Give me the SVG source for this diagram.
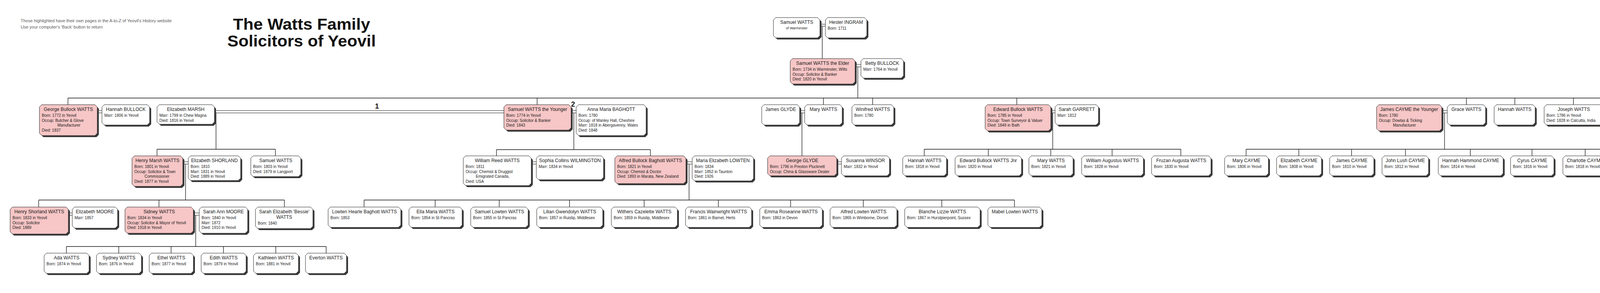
<svg xmlns="http://www.w3.org/2000/svg" width="4500" height="750" viewBox="0 0 4500 750">
<style>
.bx{fill:#ffffff;stroke:#222;stroke-width:1}
.pk{fill:#f7c6c6;stroke:#222;stroke-width:1}
.sh{fill:#3a3a3a}
text{font-family:"Liberation Sans",Arial,sans-serif;fill:#1a1a1a}
.nm{font-size:12px;text-anchor:middle}
.dt{font-size:10px}
.sub{font-size:9px;text-anchor:middle}
.note{font-size:11px;fill:#5a5a5a}
.title{font-size:40px;font-weight:bold;text-anchor:middle;fill:#111}
.num{font-size:18px;font-weight:bold;fill:#111}
.ln{fill:none;stroke:#111;stroke-width:1.3}
.dl{fill:none;stroke:#111;stroke-width:1}
</style>
<rect width="4500" height="750" fill="#ffffff"/>

<g id="header">
<text class="note" x="53" y="57">Those highlighted have their own pages in the A-to-Z of Yeovil's History website</text>
<text class="note" x="53" y="73">Use your computer's 'Back' button to return</text>
<text class="title" x="772" y="76" textLength="351" lengthAdjust="spacingAndGlyphs">The Watts Family</text>
<text class="title" x="772" y="119" textLength="380" lengthAdjust="spacingAndGlyphs">Solicitors of Yeovil</text>
</g>

<g id="connectors">
<path class="dl" d="M2099,62H2113M2099,67H2113"/>
<path class="ln" d="M2105,67V150"/>
<path class="dl" d="M2189,165H2204M2189,171H2204"/>
<path class="ln" d="M2196,171V251"/>
<path class="ln" d="M174,251H4217M174,251V268M1375,251V268M2108,251V268M2234,251V268M2603,251V268M3754,251V268M3878,251V268M4028,251V268M4217,251V268"/>
<path class="dl" d="M249,283H261M249,289H261"/>
<path class="dl" d="M549,283H1290M549,289H1290"/>
<path class="ln" d="M553,289V382M402,382H705M402,382V399M705,382V399"/>
<path class="dl" d="M1462,283H1475M1462,289H1475"/>
<path class="ln" d="M1469,289V383M1271,383H1665M1271,383V399M1665,383V399"/>
<path class="dl" d="M2047,283H2060M2047,289H2060"/>
<path class="ln" d="M2053,289V399"/>
<path class="dl" d="M2690,283H2701M2690,289H2701"/>
<path class="ln" d="M2695,289V382M2366,382H3023M2366,382V399M2530,382V399M2690,382V399M2847,382V399M3023,382V399"/>
<path class="dl" d="M3691,283H3705M3691,289H3705"/>
<path class="ln" d="M3698,289V382M3190,382H4206M3190,382V399M3325,382V399M3460,382V399M3598,382V399M3764,382V399M3922,382V399M4058,382V399M4206,382V399"/>
<path class="dl" d="M4310,283H4323M4310,289H4323"/>
<path class="dl" d="M468,414H482M468,420H482"/>
<path class="ln" d="M475,420V512M99,512H728M99,512V530M407,512V530M728,512V530"/>
<path class="dl" d="M1360,414H1373M1360,420H1373"/>
<path class="dl" d="M1756,414H1772M1756,420H1772"/>
<path class="ln" d="M1764,420V512M932,512H2597M932,512V530M1114,512V530M1278,512V530M1458,512V530M1649,512V530M1839,512V530M2024,512V530M2210,512V530M2411,512V530M2597,512V530"/>
<path class="dl" d="M2142,414H2154M2142,420H2154"/>
<path class="dl" d="M175,545H185M175,551H185"/>
<path class="dl" d="M495,545H510M495,551H510"/>
<path class="ln" d="M501,551V631M170,631H835M170,631V648M304,631V648M438,631V648M572,631V648M706,631V648M835,631V648"/>
<text class="num" x="960" y="278">1</text>
<text class="num" x="1462" y="273">2</text>
</g>

<g id="n01" transform="translate(1980,45)"><polygon class="sh" transform="translate(4,4)" points="6,0 113,0 119,6 119,46 113,52 6,52 0,46 0,6"/><polygon class="bx" points="6,0 113,0 119,6 119,46 113,52 6,52 0,46 0,6"/><text class="nm" x="59.5" y="16">Samuel WATTS</text><text class="sub" x="59.5" y="30">of Warminster</text></g>
<g id="n02" transform="translate(2113,45)"><polygon class="sh" transform="translate(4,4)" points="6,0 100,0 106,6 106,46 100,52 6,52 0,46 0,6"/><polygon class="bx" points="6,0 100,0 106,6 106,46 100,52 6,52 0,46 0,6"/><text class="nm" x="53" y="16">Hester INGRAM</text><text class="dt" x="6" y="31">Born: 1711</text></g>
<g id="n03" transform="translate(2023,150)"><polygon class="sh" transform="translate(4,4)" points="6,0 160,0 166,6 166,59 160,65 6,65 0,59 0,6"/><polygon class="pk" points="6,0 160,0 166,6 166,59 160,65 6,65 0,59 0,6"/><text class="nm" x="83" y="16">Samuel WATTS the Elder</text><text class="dt" x="6" y="31">Born: 1734 in Warminster, Wilts</text><text class="dt" x="6" y="43.5">Occup: Solicitor &amp; Banker</text><text class="dt" x="6" y="56">Died: 1820 in Yeovil</text></g>
<g id="n04" transform="translate(2204,150)"><polygon class="sh" transform="translate(4,4)" points="6,0 103,0 109,6 109,44 103,50 6,50 0,44 0,6"/><polygon class="bx" points="6,0 103,0 109,6 109,44 103,50 6,50 0,44 0,6"/><text class="nm" x="54.5" y="16">Betty BULLOCK</text><text class="dt" x="6" y="31">Marr: 1764 in Yeovil</text></g>

<g id="n05" transform="translate(101,268)"><polygon class="sh" transform="translate(4,4)" points="6,0 142,0 148,6 148,73 142,79 6,79 0,73 0,6"/><polygon class="pk" points="6,0 142,0 148,6 148,73 142,79 6,79 0,73 0,6"/><text class="nm" x="74" y="16">George Bullock WATTS</text><text class="dt" x="6" y="31">Born: 1772 in Yeovil</text><text class="dt" x="6" y="43.5">Occup: Butcher &amp; Glove</text><text class="dt" x="46" y="56">Manufacturer</text><text class="dt" x="6" y="68.5">Died: 1837</text></g>
<g id="n06" transform="translate(261,268)"><polygon class="sh" transform="translate(4,4)" points="6,0 116,0 122,6 122,46 116,52 6,52 0,46 0,6"/><polygon class="bx" points="6,0 116,0 122,6 122,46 116,52 6,52 0,46 0,6"/><text class="nm" x="61" y="16">Hannah BULLOCK</text><text class="dt" x="6" y="31">Marr: 1806 in Yeovil</text></g>
<g id="n07" transform="translate(402,268)"><polygon class="sh" transform="translate(4,4)" points="6,0 141,0 147,6 147,44 141,50 6,50 0,44 0,6"/><polygon class="bx" points="6,0 141,0 147,6 147,44 141,50 6,50 0,44 0,6"/><text class="nm" x="73.5" y="16">Elizabeth MARSH</text><text class="dt" x="6" y="31">Marr: 1799 in Chew Magna</text><text class="dt" x="6" y="43.5">Died: 1816 in Yeovil</text></g>
<g id="n08" transform="translate(1290,268)"><polygon class="sh" transform="translate(4,4)" points="6,0 166,0 172,6 172,59 166,65 6,65 0,59 0,6"/><polygon class="pk" points="6,0 166,0 172,6 172,59 166,65 6,65 0,59 0,6"/><text class="nm" x="86" y="16">Samuel WATTS the Younger</text><text class="dt" x="6" y="31">Born: 1774 in Yeovil</text><text class="dt" x="6" y="43.5">Occup: Solicitor &amp; Banker</text><text class="dt" x="6" y="56">Died: 1843</text></g>
<g id="n09" transform="translate(1475,268)"><polygon class="sh" transform="translate(4,4)" points="6,0 173,0 179,6 179,73 173,79 6,79 0,73 0,6"/><polygon class="bx" points="6,0 173,0 179,6 179,73 173,79 6,79 0,73 0,6"/><text class="nm" x="89.5" y="16">Anna Maria BAGHOTT</text><text class="dt" x="6" y="31">Born: 1780</text><text class="dt" x="6" y="43.5">Occup: of Manley Hall, Cheshire</text><text class="dt" x="6" y="56">Marr: 1818 in Abergavenny, Wales</text><text class="dt" x="6" y="68.5">Died: 1848</text></g>
<g id="n10" transform="translate(1950,268)"><polygon class="sh" transform="translate(4,4)" points="6,0 91,0 97,6 97,46 91,52 6,52 0,46 0,6"/><polygon class="bx" points="6,0 91,0 97,6 97,46 91,52 6,52 0,46 0,6"/><text class="nm" x="48.5" y="16">James GLYDE</text></g>
<g id="n11" transform="translate(2060,268)"><polygon class="sh" transform="translate(4,4)" points="6,0 90,0 96,6 96,46 90,52 6,52 0,46 0,6"/><polygon class="bx" points="6,0 90,0 96,6 96,46 90,52 6,52 0,46 0,6"/><text class="nm" x="48" y="16">Mary  WATTS</text></g>
<g id="n12" transform="translate(2181,268)"><polygon class="sh" transform="translate(4,4)" points="6,0 101,0 107,6 107,46 101,52 6,52 0,46 0,6"/><polygon class="bx" points="6,0 101,0 107,6 107,46 101,52 6,52 0,46 0,6"/><text class="nm" x="53.5" y="16">Winifred  WATTS</text><text class="dt" x="6" y="31">Born: 1780</text></g>
<g id="n13" transform="translate(2522,268)"><polygon class="sh" transform="translate(4,4)" points="6,0 162,0 168,6 168,61 162,67 6,67 0,61 0,6"/><polygon class="pk" points="6,0 162,0 168,6 168,61 162,67 6,67 0,61 0,6"/><text class="nm" x="84" y="16">Edward Bullock WATTS</text><text class="dt" x="6" y="31">Born: 1785 in Yeovil</text><text class="dt" x="6" y="43.5">Occup: Town Surveyor &amp; Valuer</text><text class="dt" x="6" y="56">Died: 1849 in Bath</text></g>
<g id="n14" transform="translate(2701,268)"><polygon class="sh" transform="translate(4,4)" points="6,0 105,0 111,6 111,46 105,52 6,52 0,46 0,6"/><polygon class="bx" points="6,0 105,0 111,6 111,46 105,52 6,52 0,46 0,6"/><text class="nm" x="55.5" y="16">Sarah GARRETT</text><text class="dt" x="6" y="31">Marr: 1812</text></g>
<g id="n15" transform="translate(3524,268)"><polygon class="sh" transform="translate(4,4)" points="6,0 161,0 167,6 167,61 161,67 6,67 0,61 0,6"/><polygon class="pk" points="6,0 161,0 167,6 167,61 161,67 6,67 0,61 0,6"/><text class="nm" x="83.5" y="16">James CAYME the Younger</text><text class="dt" x="6" y="31">Born: 1780</text><text class="dt" x="6" y="43.5">Occup: Dowlas &amp; Ticking</text><text class="dt" x="42" y="56">Manufacturer</text></g>
<g id="n16" transform="translate(3705,268)"><polygon class="sh" transform="translate(4,4)" points="6,0 92,0 98,6 98,46 92,52 6,52 0,46 0,6"/><polygon class="bx" points="6,0 92,0 98,6 98,46 92,52 6,52 0,46 0,6"/><text class="nm" x="49" y="16">Grace  WATTS</text></g>
<g id="n17" transform="translate(3825,268)"><polygon class="sh" transform="translate(4,4)" points="6,0 99,0 105,6 105,46 99,52 6,52 0,46 0,6"/><polygon class="bx" points="6,0 99,0 105,6 105,46 99,52 6,52 0,46 0,6"/><text class="nm" x="52.5" y="16">Hannah  WATTS</text></g>
<g id="n18" transform="translate(3953,268)"><polygon class="sh" transform="translate(4,4)" points="6,0 146,0 152,6 152,46 146,52 6,52 0,46 0,6"/><polygon class="bx" points="6,0 146,0 152,6 152,46 146,52 6,52 0,46 0,6"/><text class="nm" x="76" y="16">Joseph WATTS</text><text class="dt" x="6" y="31">Born: 1786 in Yeovil</text><text class="dt" x="6" y="43.5">Died: 1828 in Calcutta, India</text></g>
<g id="n19" transform="translate(4126,268)"><polygon class="sh" transform="translate(4,4)" points="6,0 178,0 184,6 184,49 178,55 6,55 0,49 0,6"/><polygon class="pk" points="6,0 178,0 184,6 184,49 178,55 6,55 0,49 0,6"/><text class="nm" x="92" y="16">Thomas Bullock WATTS</text><text class="dt" x="6" y="31">Born: 1787 in Yeovil</text><text class="dt" x="6" y="43.5">Occup: Solicitor &amp; Brandy Merchant</text></g>
<g id="n20" transform="translate(4323,268)"><polygon class="sh" transform="translate(4,4)" points="6,0 112,0 118,6 118,61 112,67 6,67 0,61 0,6"/><polygon class="bx" points="6,0 112,0 118,6 118,61 112,67 6,67 0,61 0,6"/><text class="nm" x="59" y="16">Maria  MOUNTY</text><text class="dt" x="6" y="31">Born: 1813 in Bath</text><text class="dt" x="6" y="43.5">Marr: 1841 in Bath</text><text class="dt" x="6" y="56">Died: 1870 in London</text></g>

<g id="n21" transform="translate(338,399)"><polygon class="sh" transform="translate(4,4)" points="6,0 124,0 130,6 130,72 124,78 6,78 0,72 0,6"/><polygon class="pk" points="6,0 124,0 130,6 130,72 124,78 6,78 0,72 0,6"/><text class="nm" x="65" y="16">Henry Marsh  WATTS</text><text class="dt" x="6" y="31">Born: 1801 in Yeovil</text><text class="dt" x="6" y="43.5">Occup: Solicitor &amp; Town</text><text class="dt" x="32" y="56">Commissioner</text><text class="dt" x="6" y="68.5">Died: 1877 in Yeovil</text></g>
<g id="n22" transform="translate(482,399)"><polygon class="sh" transform="translate(4,4)" points="6,0 128,0 134,6 134,57 128,63 6,63 0,57 0,6"/><polygon class="bx" points="6,0 128,0 134,6 134,57 128,63 6,63 0,57 0,6"/><text class="nm" x="67" y="16">Elizabeth SHORLAND</text><text class="dt" x="6" y="31">Born: 1810</text><text class="dt" x="6" y="43.5">Marr: 1831 in Yeovil</text><text class="dt" x="6" y="56">Died: 1889 in Yeovil</text></g>
<g id="n23" transform="translate(642,399)"><polygon class="sh" transform="translate(4,4)" points="6,0 122,0 128,6 128,47 122,53 6,53 0,47 0,6"/><polygon class="bx" points="6,0 122,0 128,6 128,47 122,53 6,53 0,47 0,6"/><text class="nm" x="64" y="16">Samuel  WATTS</text><text class="dt" x="6" y="31">Born: 1803 in Yeovil</text><text class="dt" x="6" y="43.5">Died: 1879 in Langport</text></g>
<g id="n24" transform="translate(1186,399)"><polygon class="sh" transform="translate(4,4)" points="6,0 168,0 174,6 174,70 168,76 6,76 0,70 0,6"/><polygon class="bx" points="6,0 168,0 174,6 174,70 168,76 6,76 0,70 0,6"/><text class="nm" x="87" y="16">William Reed WATTS</text><text class="dt" x="6" y="31">Born: 1811</text><text class="dt" x="6" y="43.5">Occup: Chemist &amp; Druggist</text><text class="dt" x="32" y="56">Emigrated Canada,</text><text class="dt" x="6" y="68.5">Died: USA</text></g>
<g id="n25" transform="translate(1373,399)"><polygon class="sh" transform="translate(4,4)" points="6,0 166,0 172,6 172,55 166,61 6,61 0,55 0,6"/><polygon class="bx" points="6,0 166,0 172,6 172,55 166,61 6,61 0,55 0,6"/><text class="nm" x="86" y="16">Sophia Collins WILMINGTON</text><text class="dt" x="6" y="31">Marr: 1834 in Yeovil</text></g>
<g id="n26" transform="translate(1574,399)"><polygon class="sh" transform="translate(4,4)" points="6,0 176,0 182,6 182,65 176,71 6,71 0,65 0,6"/><polygon class="pk" points="6,0 176,0 182,6 182,65 176,71 6,71 0,65 0,6"/><text class="nm" x="91" y="16">Alfred Bullock Baghott WATTS</text><text class="dt" x="6" y="31">Born: 1821 in Yeovil</text><text class="dt" x="6" y="43.5">Occup: Chemist &amp; Doctor</text><text class="dt" x="6" y="56">Died: 1893 in Marata, New Zealand</text></g>
<g id="n27" transform="translate(1772,399)"><polygon class="sh" transform="translate(4,4)" points="6,0 151,0 157,6 157,58 151,64 6,64 0,58 0,6"/><polygon class="bx" points="6,0 151,0 157,6 157,58 151,64 6,64 0,58 0,6"/><text class="nm" x="78.5" y="16">Maria Elizabeth LOWTEN</text><text class="dt" x="6" y="31">Born: 1834</text><text class="dt" x="6" y="43.5">Marr: 1852 in Taunton</text><text class="dt" x="6" y="56">Died: 1926</text></g>
<g id="n28" transform="translate(1965,399)"><polygon class="sh" transform="translate(4,4)" points="6,0 171,0 177,6 177,45 171,51 6,51 0,45 0,6"/><polygon class="pk" points="6,0 171,0 177,6 177,45 171,51 6,51 0,45 0,6"/><text class="nm" x="88.5" y="16">George GLYDE</text><text class="dt" x="6" y="31">Born: 1796 in Preston Plucknett</text><text class="dt" x="6" y="43.5">Occup: China &amp; Glassware Dealer</text></g>
<g id="n29" transform="translate(2154,399)"><polygon class="sh" transform="translate(4,4)" points="6,0 117,0 123,6 123,45 117,51 6,51 0,45 0,6"/><polygon class="bx" points="6,0 117,0 123,6 123,45 117,51 6,51 0,45 0,6"/><text class="nm" x="61.5" y="16">Susanna WINSOR</text><text class="dt" x="6" y="31">Marr: 1832 in Yeovil</text></g>
<g id="n30" transform="translate(2311,399)"><polygon class="sh" transform="translate(4,4)" points="6,0 106,0 112,6 112,45 106,51 6,51 0,45 0,6"/><polygon class="bx" points="6,0 106,0 112,6 112,45 106,51 6,51 0,45 0,6"/><text class="nm" x="56" y="16">Hannah  WATTS</text><text class="dt" x="6" y="31">Born: 1818 in Yeovil</text></g>
<g id="n31" transform="translate(2445,399)"><polygon class="sh" transform="translate(4,4)" points="6,0 164,0 170,6 170,45 164,51 6,51 0,45 0,6"/><polygon class="bx" points="6,0 164,0 170,6 170,45 164,51 6,51 0,45 0,6"/><text class="nm" x="85" y="16">Edward Bullock WATTS Jnr</text><text class="dt" x="6" y="31">Born: 1820 in Yeovil</text></g>
<g id="n32" transform="translate(2634,399)"><polygon class="sh" transform="translate(4,4)" points="6,0 107,0 113,6 113,45 107,51 6,51 0,45 0,6"/><polygon class="bx" points="6,0 107,0 113,6 113,45 107,51 6,51 0,45 0,6"/><text class="nm" x="56.5" y="16">Mary  WATTS</text><text class="dt" x="6" y="31">Born: 1821 in Yeovil</text></g>
<g id="n33" transform="translate(2769,399)"><polygon class="sh" transform="translate(4,4)" points="6,0 152,0 158,6 158,45 152,51 6,51 0,45 0,6"/><polygon class="bx" points="6,0 152,0 158,6 158,45 152,51 6,51 0,45 0,6"/><text class="nm" x="79" y="16">William Augustus WATTS</text><text class="dt" x="6" y="31">Born: 1828 in Yeovil</text></g>
<g id="n34" transform="translate(2948,399)"><polygon class="sh" transform="translate(4,4)" points="6,0 146,0 152,6 152,45 146,51 6,51 0,45 0,6"/><polygon class="bx" points="6,0 146,0 152,6 152,45 146,51 6,51 0,45 0,6"/><text class="nm" x="76" y="16">Fruzan Augusta WATTS</text><text class="dt" x="6" y="31">Born: 1830 in Yeovil</text></g>
<g id="n35" transform="translate(3135,399)"><polygon class="sh" transform="translate(4,4)" points="6,0 106,0 112,6 112,45 106,51 6,51 0,45 0,6"/><polygon class="bx" points="6,0 106,0 112,6 112,45 106,51 6,51 0,45 0,6"/><text class="nm" x="56" y="16">Mary  CAYME</text><text class="dt" x="6" y="31">Born: 1806 in Yeovil</text></g>
<g id="n36" transform="translate(3268,399)"><polygon class="sh" transform="translate(4,4)" points="6,0 109,0 115,6 115,45 109,51 6,51 0,45 0,6"/><polygon class="bx" points="6,0 109,0 115,6 115,45 109,51 6,51 0,45 0,6"/><text class="nm" x="57.5" y="16">Elizabeth  CAYME</text><text class="dt" x="6" y="31">Born: 1808 in Yeovil</text></g>
<g id="n37" transform="translate(3404,399)"><polygon class="sh" transform="translate(4,4)" points="6,0 107,0 113,6 113,45 107,51 6,51 0,45 0,6"/><polygon class="bx" points="6,0 107,0 113,6 113,45 107,51 6,51 0,45 0,6"/><text class="nm" x="56.5" y="16">James  CAYME</text><text class="dt" x="6" y="31">Born: 1810 in Yeovil</text></g>
<g id="n38" transform="translate(3538,399)"><polygon class="sh" transform="translate(4,4)" points="6,0 113,0 119,6 119,45 113,51 6,51 0,45 0,6"/><polygon class="bx" points="6,0 113,0 119,6 119,45 113,51 6,51 0,45 0,6"/><text class="nm" x="59.5" y="16">John Lush CAYME</text><text class="dt" x="6" y="31">Born: 1812 in Yeovil</text></g>
<g id="n39" transform="translate(3682,399)"><polygon class="sh" transform="translate(4,4)" points="6,0 160,0 166,6 166,45 160,51 6,51 0,45 0,6"/><polygon class="bx" points="6,0 160,0 166,6 166,45 160,51 6,51 0,45 0,6"/><text class="nm" x="83" y="16">Hannah Hammond CAYME</text><text class="dt" x="6" y="31">Born: 1814 in Yeovil</text></g>
<g id="n40" transform="translate(3867,399)"><polygon class="sh" transform="translate(4,4)" points="6,0 105,0 111,6 111,45 105,51 6,51 0,45 0,6"/><polygon class="bx" points="6,0 105,0 111,6 111,45 105,51 6,51 0,45 0,6"/><text class="nm" x="55.5" y="16">Cyrus  CAYME</text><text class="dt" x="6" y="31">Born: 1816 in Yeovil</text></g>
<g id="n41" transform="translate(4001,399)"><polygon class="sh" transform="translate(4,4)" points="6,0 108,0 114,6 114,45 108,51 6,51 0,45 0,6"/><polygon class="bx" points="6,0 108,0 114,6 114,45 108,51 6,51 0,45 0,6"/><text class="nm" x="57" y="16">Charlotte  CAYME</text><text class="dt" x="6" y="31">Born: 1818 in Yeovil</text></g>
<g id="n42" transform="translate(4136,399)"><polygon class="sh" transform="translate(4,4)" points="6,0 135,0 141,6 141,45 135,51 6,51 0,45 0,6"/><polygon class="bx" points="6,0 135,0 141,6 141,45 135,51 6,51 0,45 0,6"/><text class="nm" x="70.5" y="16">Henry Samuel CAYME</text><text class="dt" x="6" y="31">Born: 1820 in Yeovil</text></g>

<g id="n43" transform="translate(26,530)"><polygon class="sh" transform="translate(4,4)" points="6,0 143,0 149,6 149,63 143,69 6,69 0,63 0,6"/><polygon class="pk" points="6,0 143,0 149,6 149,63 143,69 6,69 0,63 0,6"/><text class="nm" x="74.5" y="16">Henry Shorland WATTS</text><text class="dt" x="6" y="31">Born: 1833 in Yeovil</text><text class="dt" x="6" y="43.5">Occup: Solicitor</text><text class="dt" x="6" y="56">Died: 1889</text></g>
<g id="n44" transform="translate(185,530)"><polygon class="sh" transform="translate(4,4)" points="6,0 110,0 116,6 116,48 110,54 6,54 0,48 0,6"/><polygon class="bx" points="6,0 110,0 116,6 116,48 110,54 6,54 0,48 0,6"/><text class="nm" x="58" y="16">Elizabeth  MOORE</text><text class="dt" x="6" y="31">Marr: 1857</text></g>
<g id="n45" transform="translate(320,530)"><polygon class="sh" transform="translate(4,4)" points="6,0 169,0 175,6 175,61 169,67 6,67 0,61 0,6"/><polygon class="pk" points="6,0 169,0 175,6 175,61 169,67 6,67 0,61 0,6"/><text class="nm" x="87.5" y="16">Sidney  WATTS</text><text class="dt" x="6" y="31">Born: 1834 in Yeovil</text><text class="dt" x="6" y="43.5">Occup: Solicitor &amp; Mayor of Yeovil</text><text class="dt" x="6" y="56">Died: 1918 in Yeovil</text></g>
<g id="n46" transform="translate(510,530)"><polygon class="sh" transform="translate(4,4)" points="6,0 118,0 124,6 124,61 118,67 6,67 0,61 0,6"/><polygon class="bx" points="6,0 118,0 124,6 124,61 118,67 6,67 0,61 0,6"/><text class="nm" x="62" y="16">Sarah Ann MOORE</text><text class="dt" x="6" y="31">Born: 1840 in Yeovil</text><text class="dt" x="6" y="43.5">Marr: 1872</text><text class="dt" x="6" y="56">Died: 1910 in Yeovil</text></g>
<g id="n47" transform="translate(654,530)"><polygon class="sh" transform="translate(4,4)" points="6,0 141,0 147,6 147,49 141,55 6,55 0,49 0,6"/><polygon class="bx" points="6,0 141,0 147,6 147,49 141,55 6,55 0,49 0,6"/><text class="nm" x="73.5" y="16">Sarah Elizabeth 'Bessie'</text><text class="nm" x="73.5" y="30">WATTS</text><text class="dt" x="6" y="45">Born: 1840</text></g>
<g id="n48" transform="translate(840,530)"><polygon class="sh" transform="translate(4,4)" points="6,0 180,0 186,6 186,46 180,52 6,52 0,46 0,6"/><polygon class="bx" points="6,0 180,0 186,6 186,46 180,52 6,52 0,46 0,6"/><text class="nm" x="93" y="16">Lowten Hearle Baghott WATTS</text><text class="dt" x="6" y="31">Born: 1853</text></g>
<g id="n49" transform="translate(1047,530)"><polygon class="sh" transform="translate(4,4)" points="6,0 130,0 136,6 136,46 130,52 6,52 0,46 0,6"/><polygon class="bx" points="6,0 130,0 136,6 136,46 130,52 6,52 0,46 0,6"/><text class="nm" x="68" y="16">Ella Maria WATTS</text><text class="dt" x="6" y="31">Born: 1854 in St Pancras</text></g>
<g id="n50" transform="translate(1205,530)"><polygon class="sh" transform="translate(4,4)" points="6,0 141,0 147,6 147,46 141,52 6,52 0,46 0,6"/><polygon class="bx" points="6,0 141,0 147,6 147,46 141,52 6,52 0,46 0,6"/><text class="nm" x="73.5" y="16">Samuel Lowten WATTS</text><text class="dt" x="6" y="31">Born: 1855 in St Pancras</text></g>
<g id="n51" transform="translate(1374,530)"><polygon class="sh" transform="translate(4,4)" points="6,0 163,0 169,6 169,46 163,52 6,52 0,46 0,6"/><polygon class="bx" points="6,0 163,0 169,6 169,46 163,52 6,52 0,46 0,6"/><text class="nm" x="84.5" y="16">Lilian Gwendolyn WATTS</text><text class="dt" x="6" y="31">Born: 1857 in Ruislip, Middlesex</text></g>
<g id="n52" transform="translate(1565,530)"><polygon class="sh" transform="translate(4,4)" points="6,0 163,0 169,6 169,46 163,52 6,52 0,46 0,6"/><polygon class="bx" points="6,0 163,0 169,6 169,46 163,52 6,52 0,46 0,6"/><text class="nm" x="84.5" y="16">Withers  Cazelette  WATTS</text><text class="dt" x="6" y="31">Born: 1859 in Ruislip, Middlesex</text></g>
<g id="n53" transform="translate(1755,530)"><polygon class="sh" transform="translate(4,4)" points="6,0 163,0 169,6 169,46 163,52 6,52 0,46 0,6"/><polygon class="bx" points="6,0 163,0 169,6 169,46 163,52 6,52 0,46 0,6"/><text class="nm" x="84.5" y="16">Francis Wainwright WATTS</text><text class="dt" x="6" y="31">Born: 1861 in Barnet, Herts</text></g>
<g id="n54" transform="translate(1945,530)"><polygon class="sh" transform="translate(4,4)" points="6,0 154,0 160,6 160,46 154,52 6,52 0,46 0,6"/><polygon class="bx" points="6,0 154,0 160,6 160,46 154,52 6,52 0,46 0,6"/><text class="nm" x="80" y="16">Emma Roseanne WATTS</text><text class="dt" x="6" y="31">Born: 1863 in Devon</text></g>
<g id="n55" transform="translate(2125,530)"><polygon class="sh" transform="translate(4,4)" points="6,0 165,0 171,6 171,46 165,52 6,52 0,46 0,6"/><polygon class="bx" points="6,0 165,0 171,6 171,46 165,52 6,52 0,46 0,6"/><text class="nm" x="85.5" y="16">Alfred Lowten WATTS</text><text class="dt" x="6" y="31">Born: 1865 in Wimborne, Dorset</text></g>
<g id="n56" transform="translate(2316,530)"><polygon class="sh" transform="translate(4,4)" points="6,0 187,0 193,6 193,46 187,52 6,52 0,46 0,6"/><polygon class="bx" points="6,0 187,0 193,6 193,46 187,52 6,52 0,46 0,6"/><text class="nm" x="96.5" y="16">Blanche Lizzie WATTS</text><text class="dt" x="6" y="31">Born: 1867 in Hurstpierpoint, Sussex</text></g>
<g id="n57" transform="translate(2529,530)"><polygon class="sh" transform="translate(4,4)" points="6,0 132,0 138,6 138,46 132,52 6,52 0,46 0,6"/><polygon class="bx" points="6,0 132,0 138,6 138,46 132,52 6,52 0,46 0,6"/><text class="nm" x="69" y="16">Mabel Lowten WATTS</text></g>

<g id="n58" transform="translate(113,648)"><polygon class="sh" transform="translate(4,4)" points="6,0 109,0 115,6 115,46 109,52 6,52 0,46 0,6"/><polygon class="bx" points="6,0 109,0 115,6 115,46 109,52 6,52 0,46 0,6"/><text class="nm" x="57.5" y="16">Ada  WATTS</text><text class="dt" x="6" y="31">Born: 1874 in Yeovil</text></g>
<g id="n59" transform="translate(247,648)"><polygon class="sh" transform="translate(4,4)" points="6,0 109,0 115,6 115,46 109,52 6,52 0,46 0,6"/><polygon class="bx" points="6,0 109,0 115,6 115,46 109,52 6,52 0,46 0,6"/><text class="nm" x="57.5" y="16">Sydney  WATTS</text><text class="dt" x="6" y="31">Born: 1876 in Yeovil</text></g>
<g id="n60" transform="translate(382,648)"><polygon class="sh" transform="translate(4,4)" points="6,0 107,0 113,6 113,46 107,52 6,52 0,46 0,6"/><polygon class="bx" points="6,0 107,0 113,6 113,46 107,52 6,52 0,46 0,6"/><text class="nm" x="56.5" y="16">Ethel  WATTS</text><text class="dt" x="6" y="31">Born: 1877 in Yeovil</text></g>
<g id="n61" transform="translate(515,648)"><polygon class="sh" transform="translate(4,4)" points="6,0 109,0 115,6 115,46 109,52 6,52 0,46 0,6"/><polygon class="bx" points="6,0 109,0 115,6 115,46 109,52 6,52 0,46 0,6"/><text class="nm" x="57.5" y="16">Edith  WATTS</text><text class="dt" x="6" y="31">Born: 1879 in Yeovil</text></g>
<g id="n62" transform="translate(649,648)"><polygon class="sh" transform="translate(4,4)" points="6,0 109,0 115,6 115,46 109,52 6,52 0,46 0,6"/><polygon class="bx" points="6,0 109,0 115,6 115,46 109,52 6,52 0,46 0,6"/><text class="nm" x="57.5" y="16">Kathleen  WATTS</text><text class="dt" x="6" y="31">Born: 1881 in Yeovil</text></g>
<g id="n63" transform="translate(782,648)"><polygon class="sh" transform="translate(4,4)" points="6,0 99,0 105,6 105,46 99,52 6,52 0,46 0,6"/><polygon class="bx" points="6,0 99,0 105,6 105,46 99,52 6,52 0,46 0,6"/><text class="nm" x="52.5" y="16">Everton  WATTS</text></g>
</svg>
